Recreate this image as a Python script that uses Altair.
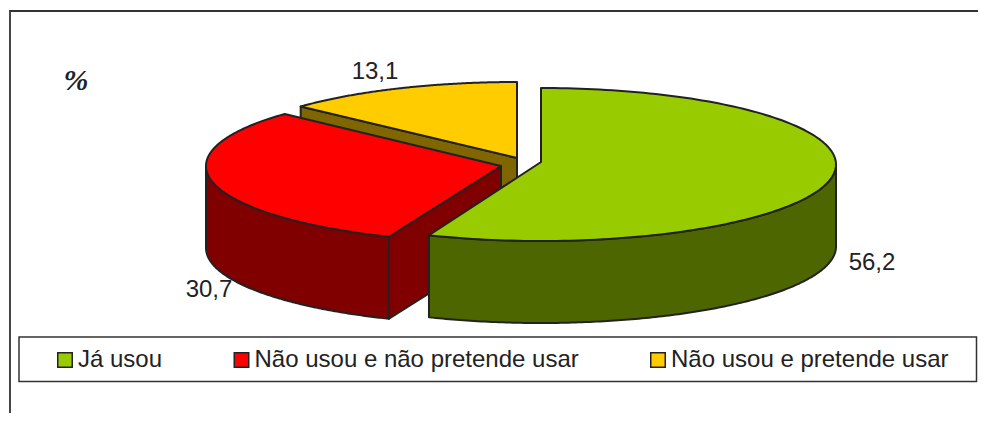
import numpy as np
import pandas as pd
import altair as alt

categories = ["Já usou", "Não usou e não pretende usar", "Não usou e pretende usar"]
shares = [56.2, 30.7, 13.1]
top_colors = ["#99CC00", "#FF0000", "#FFCC00"]
side_colors = ["#4D6600", "#800000", "#806600"]
apex_x = [541, 501, 517]
apex_y = [162, 166, 158]
center_y = [164.5, 166, 158.5]

RX, RY, DEPTH = 295, 76.5, 82
INK = "#222222"
W, H = 970, 405

ends = np.cumsum(shares) / 100 * 2 * np.pi
starts = ends - np.array(shares) / 100 * 2 * np.pi


def arc(i, a, b, dz=0, n=160):
    t = np.linspace(a, b, n)
    return list(zip(apex_x[i] + RX * np.sin(t), center_y[i] - RY * np.cos(t) + dz))


def top(i):
    return [(apex_x[i], apex_y[i])] + arc(i, starts[i], ends[i])


def outer(i, a, b):
    return arc(i, a, b) + arc(i, b, a, DEPTH)


def radial(i, t):
    p = (apex_x[i], apex_y[i])
    q = (apex_x[i] + RX * np.sin(t), center_y[i] - RY * np.cos(t))
    return [p, q, (q[0], q[1] + DEPTH), (p[0], p[1] + DEPTH)]


faces = [
    (radial(2, starts[2]), side_colors[2]),
    (top(2), top_colors[2]),
    (outer(1, starts[1], 1.5 * np.pi), side_colors[1]),
    (radial(1, starts[1]), side_colors[1]),
    (top(1), top_colors[1]),
    (outer(0, 0.5 * np.pi, ends[0]), side_colors[0]),
    (top(0), top_colors[0]),
]

xs = alt.Scale(domain=[8, 8 + W], range=[0, W])
ys = alt.Scale(domain=[8, 8 + H], range=[0, H])
X = alt.X("x:Q", scale=xs, axis=None)
Y = alt.Y("y:Q", scale=ys, axis=None)

layers = []

# chart frame: only left and top lines show in the picture
frame = pd.DataFrame({"x": [10, 10, 8 + W], "y": [8 + H, 11, 11], "k": [0, 1, 2]})
layers.append(alt.Chart(frame).mark_line(stroke="#333333", strokeWidth=1.8).encode(X, Y, order="k:Q"))

for pts, col in faces:
    df = pd.DataFrame(pts, columns=["x", "y"])
    df["k"] = range(len(df))
    layers.append(
        alt.Chart(df)
        .mark_line(fill=col, stroke=INK, strokeWidth=2, interpolate="linear-closed", strokeJoin="round")
        .encode(X, Y, order="k:Q")
    )

# value labels
lab = pd.DataFrame({
    "x": [872, 209, 375],
    "y": [263, 290, 72],
    "t": [f"{v:.1f}".replace(".", ",") for v in shares],
})
layers.append(
    alt.Chart(lab).mark_text(font="Liberation Sans", fontSize=24, color=INK, baseline="middle", align="center")
    .encode(X, Y, text="t:N")
)

# percent sign, cut at its foot as in the picture
pct = pd.DataFrame({"x": [76], "y": [81], "t": ["%"]})
layers.append(
    alt.Chart(pct).mark_text(font="Liberation Serif", fontSize=30, fontStyle="italic", fontWeight="bold",
                             color="#222222", baseline="middle", align="center")
    .encode(X, Y, text="t:N")
)
mask = pd.DataFrame({"x": [55], "x2": [100], "y": [90], "y2": [100]})
layers.append(alt.Chart(mask).mark_rect(fill="white", stroke=None).encode(
    alt.X("x:Q", scale=xs, axis=None), alt.X2("x2:Q"), alt.Y("y:Q", scale=ys, axis=None), alt.Y2("y2:Q")))

# legend box
box = pd.DataFrame({"x": [19], "x2": [976.5], "y": [337], "y2": [381.5]})
layers.append(alt.Chart(box).mark_rect(fill="white", stroke="#333333", strokeWidth=1.5).encode(
    alt.X("x:Q", scale=xs, axis=None), alt.X2("x2:Q"), alt.Y("y:Q", scale=ys, axis=None), alt.Y2("y2:Q")))

# invisible squares that carry the legend
leg = pd.DataFrame({"x": [100, 100, 100], "y": [100, 100, 100], "c": categories})
layers.append(
    alt.Chart(leg).mark_square(opacity=0).encode(
        X, Y,
        color=alt.Color(
            "c:N",
            scale=alt.Scale(domain=categories, range=top_colors),
            legend=alt.Legend(
                title=None, orient="none", legendX=45, legendY=340, columns=3, gridAlign="none",
                columnPadding=66.5, symbolType="square", symbolSize=210, symbolOpacity=1,
                symbolStrokeColor=INK, symbolStrokeWidth=1.5, symbolOffset=0,
                labelFont="Liberation Sans", labelFontSize=24, labelColor=INK, labelOffset=1,
                labelLimit=500, padding=0, rowPadding=0,
            ),
        ),
    )
)

chart = (
    alt.layer(*layers)
    .properties(width=W, height=H, padding=0, background="white",
                autosize=alt.AutoSizeParams(type="none", contains="padding"))
    .configure_view(stroke=None)
)
chart.save("out.html", embed_options={"renderer": "svg", "actions": False})
